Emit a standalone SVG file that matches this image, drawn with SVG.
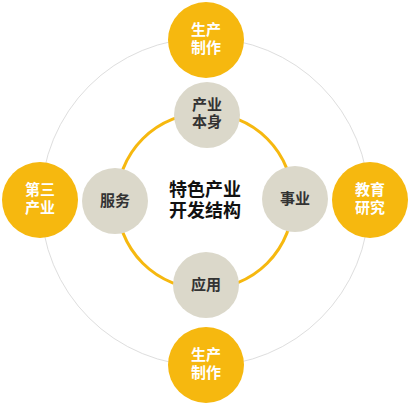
<svg xmlns="http://www.w3.org/2000/svg" width="410" height="405" viewBox="0 0 410 405">
<style>
.outer{fill:#F6B80F}
.inner{fill:#DBD8CA}
.wt{fill:#fff;font-family:"Noto Sans CJK SC","Noto Sans",sans-serif;font-size:15px;font-weight:bold;text-anchor:middle}
.dt{fill:#333;font-family:"Noto Sans CJK SC","Noto Sans",sans-serif;font-size:15px;font-weight:bold;text-anchor:middle}
.ct{fill:#111;font-family:"Noto Sans CJK SC","Noto Sans",sans-serif;font-size:18px;font-weight:bold;text-anchor:middle}
</style>
<rect width="410" height="405" fill="#fff"/>
<g id="connectors">
<circle cx="205" cy="202" r="164" fill="none" stroke="#DEDEDE" stroke-width="1"/>
<circle cx="205" cy="201" r="88" fill="none" stroke="#F6B80F" stroke-width="3"/>
</g>
<g id="n-top"><circle class="outer" cx="206" cy="40" r="38"/><text class="wt" x="206" y="35">生产</text><text class="wt" x="206" y="53">制作</text></g>
<g id="n-left"><circle class="outer" cx="40" cy="200" r="38"/><text class="wt" x="40" y="195">第三</text><text class="wt" x="40" y="213">产业</text></g>
<g id="n-right"><circle class="outer" cx="370" cy="200" r="38"/><text class="wt" x="370" y="195">教育</text><text class="wt" x="370" y="213">研究</text></g>
<g id="n-bottom"><circle class="outer" cx="206" cy="365" r="38"/><text class="wt" x="206" y="360">生产</text><text class="wt" x="206" y="378">制作</text></g>
<g id="g-top"><circle class="inner" cx="207" cy="115" r="33"/><text class="dt" x="207" y="110">产业</text><text class="dt" x="207" y="127">本身</text></g>
<g id="g-left"><circle class="inner" cx="115" cy="201" r="33"/><text class="dt" x="115" y="206">服务</text></g>
<g id="g-right"><circle class="inner" cx="295" cy="199" r="33"/><text class="dt" x="295" y="204">事业</text></g>
<g id="g-bottom"><circle class="inner" cx="206" cy="285" r="33"/><text class="dt" x="206" y="290">应用</text></g>
<g id="center"><text class="ct" x="205" y="196">特色产业</text><text class="ct" x="205" y="217">开发结构</text></g>
</svg>
